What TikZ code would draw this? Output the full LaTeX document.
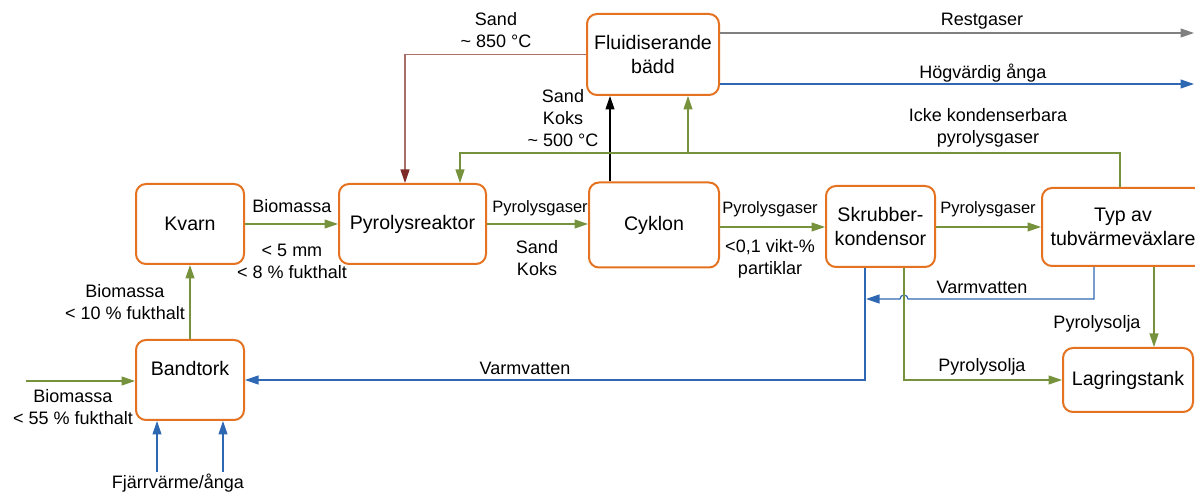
\documentclass[tikz,border=0pt]{standalone}
\usepackage{fontspec}
\setmainfont{Liberation Sans}
\usetikzlibrary{arrows.meta}
\definecolor{boxorange}{RGB}{228,114,32}
\definecolor{flowgreen}{RGB}{118,146,60}
\definecolor{flowblue}{RGB}{46,103,178}
\definecolor{flowgray}{RGB}{128,128,128}
\definecolor{flowbrown}{RGB}{170,110,105}
\definecolor{headbrown}{RGB}{125,42,40}
\begin{document}
\begin{tikzpicture}[x=1pt,y=-1pt,
  box/.style={draw=boxorange, line width=2pt, rounded corners=10pt, fill=white, align=center, inner sep=0pt, font=\fontsize{19.6}{23.5}\selectfont},
  boxtext/.style={inner sep=0pt, font=\fontsize{19.6}{23.5}\selectfont},
  lbl/.style={font=\fontsize{18}{22}\selectfont, align=center, inner sep=0pt},
  slbl/.style={font=\fontsize{16.5}{20}\selectfont, align=center, inner sep=0pt},
  flow/.style={line width=1.2pt, -{Triangle[length=13.5pt,width=9pt]}},
  greenflow/.style={flow, draw=flowgreen},
  blueflow/.style={flow, draw=flowblue},
  grayflow/.style={flow, draw=flowgray},
  blackflow/.style={flow, draw=black},
  brownflow/.style={line width=1.2pt, draw=flowbrown, -{Triangle[length=13.5pt,width=9pt,color=headbrown]}}
]
\useasboundingbox (0,0) rectangle (1195,494);
\clip (0,0) rectangle (1195,494);

% boxes
\node[box, minimum width=132pt, minimum height=81pt] (fluid) at (653,54.5) {Fluidiserande\\bädd};
\node[box, minimum width=108pt, minimum height=80pt] (kvarn) at (190,224) {Kvarn};
\node[box, minimum width=147pt, minimum height=80pt] (pyro) at (412.5,224) {Pyrolysreaktor};
\node[box, minimum width=130pt, minimum height=85pt] (cyk) at (654,225) {Cyklon};
\node[box, minimum width=109pt, minimum height=81pt] (skrub) at (880.5,226.5) {Skrubber-\\kondensor};
\node[box, minimum width=162pt, minimum height=78pt] (typ) at (1123,227) {Typ av\\tubvärmeväxlare};
\node[box, minimum width=130pt, minimum height=64pt] (lager) at (1128,380) {Lagringstank};
\node[box, minimum width=108pt, minimum height=80pt] (band) at (190,380) {};
\node[boxtext] (bandtxt) at (190,368) {Bandtork};

% free ends
\coordinate (restend) at (1194,33);
\coordinate (angend) at (1194,84);
\coordinate (jn) at (688,153);
\coordinate (vvend) at (866,299);
\coordinate (inbio) at (26,381);
\coordinate (fj1) at (157,472);
\coordinate (fj2) at (223,472);

% connectors
\draw[brownflow] (fluid.west) -| (pyro.north -| 405,0);
\draw[blackflow] (cyk.north -| 610,0) -- (fluid.south -| 610,0);
\draw[greenflow] (typ.north -| 1120,0) |- (460,153) -- (pyro.north -| 460,0);
\draw[greenflow] (jn) -- (fluid.south -| jn);
\draw[grayflow] (fluid.east |- restend) -- (restend);
\draw[blueflow] (fluid.east |- angend) -- (angend);
\draw[greenflow] (kvarn.east) -- (pyro.west);
\draw[greenflow] (pyro.east) -- (cyk.west |- pyro.east);
\draw[greenflow] (cyk.east |- 0,227) -- (skrub.west |- 0,227);
\draw[greenflow] (skrub.east |- 0,227) -- (typ.west |- 0,227);
\draw[blueflow] (typ.south -| 1094,0) -- (1094,299) -- (908,299) arc (0:-180:4) -- (vvend);
\draw[blueflow] (skrub.south -| 865,0) |- (band.east);
\draw[greenflow] (skrub.south -| 904,0) |- (lager.west);
\draw[greenflow] (typ.south -| 1154,0) -- (lager.north -| 1154,0);
\draw[greenflow] (band.north) -- (kvarn.south);
\draw[greenflow] (inbio) -- (band.west |- inbio);
\draw[blueflow] (fj1) -- (band.south -| fj1);
\draw[blueflow] (fj2) -- (band.south -| fj2);

% labels
\node[lbl] (l1) at (496,30) {Sand\\\textasciitilde{} 850 °C};
\node[lbl] (l2) at (563,118) {Sand\\Koks\\\textasciitilde{} 500 °C};
\node[lbl] (l3) at (988,128) {Icke kondenserbara\\pyrolysgaser};
\node[lbl] (l4) at (982,21) {Restgaser};
\node[lbl] (l5) at (983,73) {Högvärdig ånga};
\node[lbl] (l6) at (292,206) {Biomassa};
\node[lbl] (l7) at (292,261) {< 5 mm\\< 8 \% fukthalt};
\node[slbl] (l8) at (540,208) {Pyrolysgaser};
\node[lbl] (l9) at (537,258) {Sand\\Koks};
\node[slbl] (l10) at (770,209) {Pyrolysgaser};
\node[lbl] (l11) at (770,259) {<0,1 vikt-\%\\partiklar};
\node[slbl] (l12) at (988,209) {Pyrolysgaser};
\node[lbl] (l13) at (982,287) {Varmvatten};
\node[lbl] (l14) at (525,368) {Varmvatten};
\node[lbl] (l15) at (982,367) {Pyrolysolja};
\node[lbl] (l16) at (1097,324) {Pyrolysolja};
\node[lbl] (l17) at (125,302) {Biomassa\\< 10 \% fukthalt};
\node[lbl] (l18) at (73,407) {Biomassa\\< 55 \% fukthalt};
\node[lbl] (l19) at (178,483) {Fjärrvärme/ånga};
\end{tikzpicture}
\end{document}
